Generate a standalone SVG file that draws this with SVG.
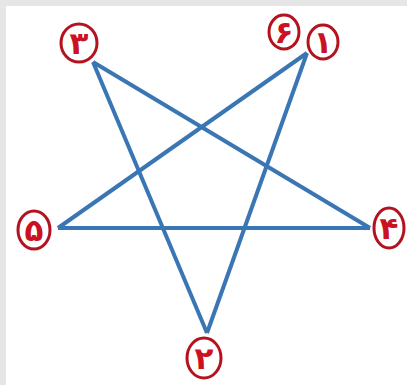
<svg xmlns="http://www.w3.org/2000/svg" width="407" height="385" viewBox="0 0 407 385">
<style>
.edge{stroke:#3a76b3;stroke-width:4;fill:none;stroke-linecap:butt}
.ring{fill:#ffffff;stroke:#b3121f;stroke-width:3}
.num{font-family:"DejaVu Sans",sans-serif;font-weight:bold;font-size:31px;fill:#cc1122;text-anchor:middle;dominant-baseline:central}
</style>
<rect x="0" y="0" width="407" height="385" fill="#e6e6e6"/>
<rect x="6" y="6" width="401" height="379" fill="#ffffff"/>
<g id="connectors">
<line class="edge" x1="93" y1="62" x2="207" y2="333"/>
<line class="edge" x1="207" y1="333" x2="307" y2="53"/>
<line class="edge" x1="307" y1="53" x2="58" y2="228"/>
<line class="edge" x1="58" y1="228" x2="370" y2="228"/>
<line class="edge" x1="370" y1="228" x2="93" y2="62"/>
</g>
<g id="n3"><ellipse class="ring" cx="79" cy="43" rx="18" ry="19"/><text class="num" x="79" y="43">۳</text></g>
<g id="n6"><ellipse class="ring" cx="284" cy="32" rx="15" ry="17"/><text class="num" x="284" y="32">۶</text></g>
<g id="n1"><ellipse class="ring" cx="323" cy="42" rx="15" ry="17"/><text class="num" x="323" y="42">۱</text></g>
<g id="n5"><ellipse class="ring" cx="34" cy="230" rx="16" ry="19"/><text class="num" x="34" y="230">۵</text></g>
<g id="n4"><ellipse class="ring" cx="389" cy="228" rx="15" ry="20"/><text class="num" x="389" y="228">۴</text></g>
<g id="n2"><ellipse class="ring" cx="204" cy="358" rx="17" ry="20"/><text class="num" x="204" y="358">۲</text></g>
</svg>
